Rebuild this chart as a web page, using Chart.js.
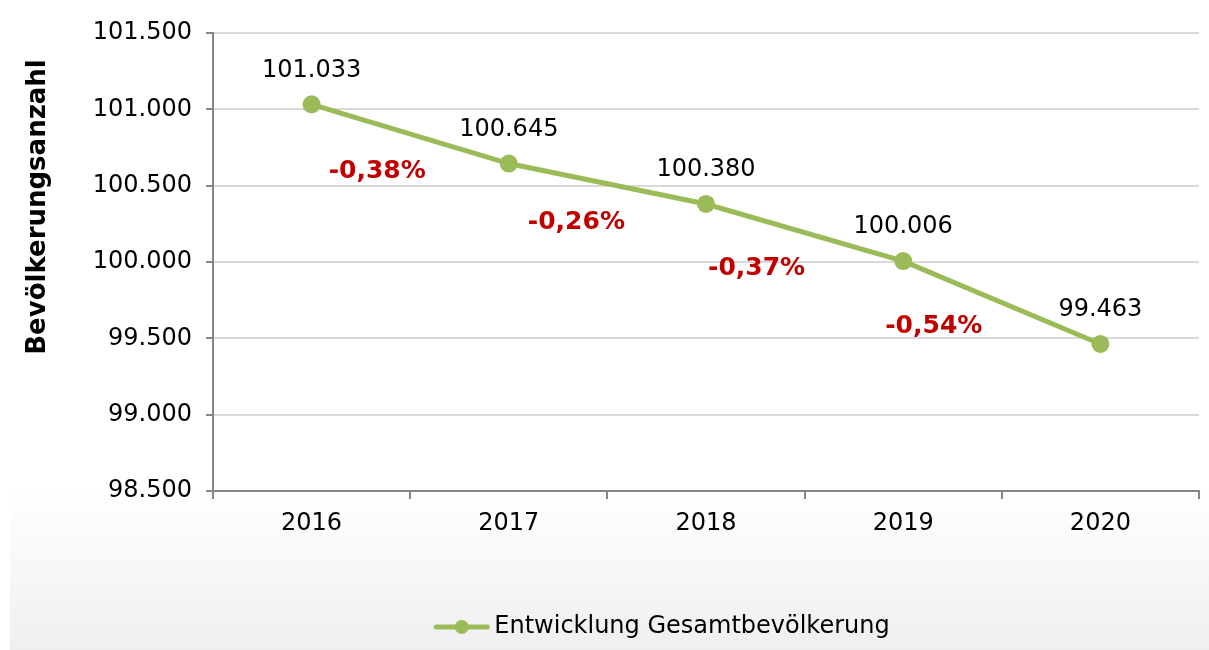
<!DOCTYPE html>
<html>
<head>
<meta charset="utf-8">
<script src="https://cdn.jsdelivr.net/npm/chart.js@4"></script>
<style>
  html, body { margin: 0; padding: 0; background: #fff; }
</style>
</head>
<body>
<canvas id="myChart" width="1209" height="650"></canvas>
<script>
// Daten
const jahre = ['2016', '2017', '2018', '2019', '2020'];
const bevoelkerung = [101033, 100645, 100380, 100006, 99463];
const veraenderung = ['-0,38%', '-0,26%', '-0,37%', '-0,54%'];
const yMin = 98500;
const yMax = 101500;
const yStep = 500;

// Lage der roten Prozentangaben relativ zur Streckenmitte (px)
const pctOffset = [[-33, 38], [-31, 39], [-48, 36], [-68, 24]];

const gruen = '#9bbb59';
const achse = '#868686';
const schrift = 'DejaVu Sans';

const fmt = n => String(n).replace(/\B(?=(\d{3})+(?!\d))/g, '.');

// Legendensymbol: Linie mit Punkt
const legendIcon = document.createElement('canvas');
legendIcon.width = 57;
legendIcon.height = 16;
(function () {
  const c = legendIcon.getContext('2d');
  c.strokeStyle = gruen;
  c.lineWidth = 5;
  c.lineCap = 'round';
  c.beginPath();
  c.moveTo(3, 8);
  c.lineTo(54, 8);
  c.stroke();
  c.fillStyle = gruen;
  c.beginPath();
  c.arc(28.5, 8, 7, 0, Math.PI * 2);
  c.fill();
})();

const hintergrund = {
  id: 'hintergrund',
  afterLayout(chart) {
    // Legende wie im Original etwas nach rechts
    chart.legend.left += 66;
    chart.legend.right += 66;
  },
  beforeDraw(chart) {
    const ctx = chart.ctx;
    ctx.save();
    ctx.fillStyle = '#fff';
    ctx.fillRect(0, 0, chart.width, chart.height);
    const g = ctx.createLinearGradient(0, 490, 0, chart.height);
    g.addColorStop(0, '#ffffff');
    g.addColorStop(1, '#efefef');
    ctx.fillStyle = g;
    ctx.fillRect(10, 490, chart.width - 10, chart.height - 490);
    ctx.restore();
  }
};

const beschriftung = {
  id: 'beschriftung',
  afterDatasetsDraw(chart) {
    const ctx = chart.ctx;
    const pts = chart.getDatasetMeta(0).data;
    ctx.save();
    ctx.textAlign = 'center';
    ctx.textBaseline = 'middle';
    // Werte über den Punkten
    ctx.fillStyle = '#000';
    ctx.font = '24px "' + schrift + '"';
    pts.forEach((p, i) => {
      ctx.fillText(fmt(bevoelkerung[i]), p.x, p.y - 34);
    });
    // Veränderung in Prozent
    ctx.fillStyle = '#c00000';
    ctx.font = 'bold 25px "' + schrift + '"';
    veraenderung.forEach((t, i) => {
      const mx = (pts[i].x + pts[i + 1].x) / 2;
      const my = (pts[i].y + pts[i + 1].y) / 2;
      ctx.fillText(t, mx + pctOffset[i][0], my + pctOffset[i][1]);
    });
    // Achsentitel
    ctx.fillStyle = '#000';
    ctx.font = 'bold 26px "' + schrift + '"';
    ctx.translate(38, 207);
    ctx.rotate(-Math.PI / 2);
    ctx.fillText('Bevölkerungsanzahl', 0, 0);
    ctx.restore();
  }
};

const ctx = document.getElementById('myChart').getContext('2d');
const myChart = new Chart(ctx, {
  type: 'line',
  data: {
    labels: jahre,
    datasets: [{
      label: 'Entwicklung Gesamtbevölkerung',
      data: bevoelkerung,
      borderColor: gruen,
      backgroundColor: gruen,
      borderWidth: 5,
      pointRadius: 9,
      pointHoverRadius: 9,
      pointBackgroundColor: gruen,
      pointBorderWidth: 0,
      tension: 0
    }]
  },
  options: {
    responsive: false,
    animation: false,
    devicePixelRatio: 1,
    layout: { padding: { left: 0, top: 33, right: 10, bottom: 1 } },
    plugins: {
      tooltip: { enabled: false },
      legend: {
        position: 'bottom',
        labels: {
          usePointStyle: true,
          pointStyleWidth: 41,
          padding: 10,
          color: '#000',
          font: { family: schrift, size: 24 },
          generateLabels: chart => [{
            text: chart.data.datasets[0].label,
            pointStyle: legendIcon,
            fillStyle: gruen,
            strokeStyle: gruen,
            lineWidth: 0,
            datasetIndex: 0
          }]
        }
      }
    },
    scales: {
      x: {
        offset: true,
        afterFit: s => { s.height = 114; },
        border: { color: achse, width: 2 },
        grid: {
          offset: true,
          drawOnChartArea: false,
          color: achse,
          lineWidth: 2,
          tickLength: 8
        },
        ticks: {
          color: '#000',
          padding: 10,
          font: { family: schrift, size: 24 }
        }
      },
      y: {
        min: yMin,
        max: yMax,
        afterFit: s => { s.width = 213; },
        border: { color: achse, width: 2 },
        grid: {
          color: '#d9d9d9',
          lineWidth: 2,
          tickColor: achse,
          tickLength: 7
        },
        ticks: {
          stepSize: yStep,
          color: '#000',
          padding: 14,
          font: { family: schrift, size: 24 },
          callback: v => fmt(v)
        }
      }
    }
  },
  plugins: [hintergrund, beschriftung]
});
</script>
</body>
</html>
